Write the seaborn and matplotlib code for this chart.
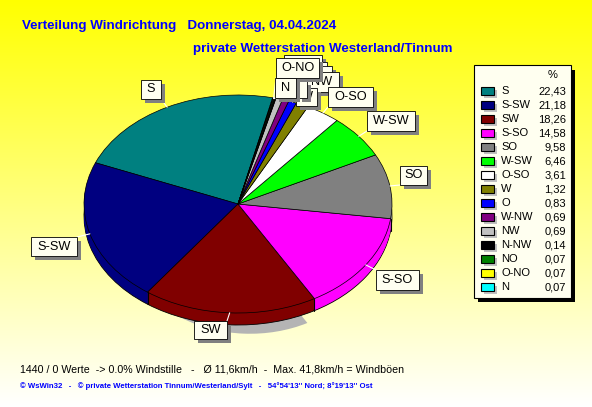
import numpy as np
import pandas as pd
import matplotlib
matplotlib.use('Agg')
import matplotlib.pyplot as plt
from matplotlib.patches import Rectangle
import seaborn as sns

directions = ['S', 'S-SW', 'SW', 'S-SO', 'SO', 'W-SW', 'O-SO', 'W', 'O', 'W-NW', 'NW', 'N-NW', 'NO', 'O-NO', 'N']
percent = [22.43, 21.18, 18.26, 14.58, 9.58, 6.46, 3.61, 1.32, 0.83, 0.69, 0.69, 0.14, 0.07, 0.07, 0.07]
slice_colors = ['#008080', '#000080', '#800000', '#ff00ff', '#808080', '#00ff00', '#ffffff', '#808000',
                '#0000ff', '#800080', '#c0c0c0', '#000000', '#008000', '#ffff00', '#00ffff']

# label boxes in pixels (left, top, right, bottom), back ones first
label_boxes = {
    'N-NW': (284, 55, 322, 72), 'NO': (298, 62, 327, 80), 'W-NW': (296, 66, 332, 84),
    'NW': (304, 72, 339, 92), 'W': (296, 88, 317, 106), 'O': (298, 81, 307, 98),
    'O-NO': (276, 58, 319, 78), 'N': (275, 78, 296, 98), 'O-SO': (328, 87, 373, 107),
    'W-SW': (367, 111, 415, 131), 'SO': (400, 166, 427, 185), 'S-SO': (376, 270, 419, 290),
    'SW': (194, 321, 227, 339), 'S-SW': (31, 237, 77, 256), 'S': (141, 80, 161, 99),
}
# labels covered by the boxes in front of them
hidden_text = ['N-NW', 'NO', 'W-NW', 'O']

W, H = 592, 407
CX, CY, RX, RY = 238, 204, 154, 109
DEPTH = 12
START = 77

sns.set_theme(style='white')
plt.rcParams['font.family'] = ['Liberation Sans', 'DejaVu Sans']
palette = sns.color_palette(slice_colors)
df = pd.DataFrame({'direction': directions, 'percent': percent})

fig = plt.figure(figsize=(W / 100, H / 100), dpi=100)

# yellow to pale background
bg = fig.add_axes([0, 0, 1, 1])
bg.imshow(np.linspace(0, 1, 256).reshape(-1, 1), extent=(0, W, H, 0), aspect='auto',
          cmap=matplotlib.colors.LinearSegmentedColormap.from_list('bg', ['#ffff00', '#ffffff']))
bg.axis('off')

# pie axes, non equal scale gives the tilted ellipse
ax = fig.add_axes([0, 0, 1, 1])
ax.patch.set_alpha(0)

# shadow only under the SW slice
shadow = ['#b4b4b4' if d == 'SW' else 'none' for d in directions]
ax.pie(df['percent'], colors=shadow, startangle=START, radius=0.75, center=(12 / RX, -48 / RY),
       wedgeprops={'edgecolor': 'none', 'linewidth': 0})

for d in range(DEPTH, 0, -1):
    edge = 'black' if d == DEPTH else 'none'
    ax.pie(df['percent'], colors=palette, startangle=START, center=(0, -d / RY),
           wedgeprops={'edgecolor': edge, 'linewidth': 0.6})

ax.pie(df['percent'], colors=palette, startangle=START, wedgeprops={'edgecolor': 'black', 'linewidth': 0.5})

# side edges of the slices at the front
ends = START + np.cumsum(df['percent']) / df['percent'].sum() * 360
for a in ends:
    if 180 < a % 360 < 360:
        x, y = np.cos(np.radians(a)), np.sin(np.radians(a))
        ax.plot([x, x], [y, y - DEPTH / RY], color='black', lw=0.8)

ax.set_aspect('auto')
ax.set_xlim(-CX / RX, (W - CX) / RX)
ax.set_ylim((CY - H) / RY, CY / RY)
ax.set_position([0, 0, 1, 1])
ax.axis('off')

# overlay in pixel coordinates for labels, legend and texts
px = fig.add_axes([0, 0, 1, 1])
px.set_xlim(0, W)
px.set_ylim(H, 0)
px.axis('off')
px.patch.set_alpha(0)

cream = '#fffff0'
starts = np.concatenate([[START], ends[:-1]])
mids = (starts + ends) / 2
for name, mid in zip(directions, mids):
    l, t, r, b = label_boxes[name]
    ex = CX + RX * np.cos(np.radians(mid))
    ey = CY - RY * np.sin(np.radians(mid))
    # leader line goes to the nearest point of the box
    px.plot([ex, np.clip(ex, l, r)], [ey, np.clip(ey, t, b)], color='white', lw=0.8, zorder=2)

z = 3
for name, (l, t, r, b) in label_boxes.items():
    px.add_patch(Rectangle((l + 4, t + 4), r - l, b - t, color='#808080', lw=0, zorder=z))
    px.add_patch(Rectangle((l, t), r - l, b - t, fc=cream, ec='black', lw=0.6, zorder=z + 0.1))
    if name not in hidden_text:
        tx = r - 17 if name == 'NW' else (l + r) / 2
        px.text(tx, (t + b) / 2, name, ha='center', va='center', fontsize=9.2, color='black', zorder=z + 0.2)
    z += 1

# legend
px.add_patch(Rectangle((478, 70), 97, 232, color='black', lw=0, zorder=30))
px.add_patch(Rectangle((474, 65), 97, 233, fc=cream, ec='black', lw=0.8, zorder=31))
px.text(553, 75, '%', ha='center', va='center', fontsize=8, color='black', zorder=32)
for i, (name, val, col) in enumerate(zip(directions, percent, palette)):
    y = 91 + i * 14
    px.add_patch(Rectangle((484, y - 1), 13, 8, color='#c0c0c0', lw=0, zorder=32))
    px.add_patch(Rectangle((481, y - 4), 13, 8, fc=col, ec='black', lw=0.8, zorder=33))
    px.text(501, y, name, ha='left', va='center', fontsize=8, color='black', zorder=34)
    px.text(566, y, f'{val:.2f}'.replace('.', ','), ha='right', va='center', fontsize=8, color='black', zorder=34)

# titles and footer
px.text(22, 26, 'Verteilung Windrichtung   Donnerstag, 04.04.2024', color='#0000ff', fontsize=9.6,
        fontweight='bold', ha='left', va='center', zorder=40)
px.text(193, 49, 'private Wetterstation Westerland/Tinnum', color='#0000ff', fontsize=9.6,
        fontweight='bold', ha='left', va='center', zorder=40)
px.text(20, 369, '1440 / 0 Werte  -> 0.0% Windstille   -   Ø 11,6km/h  -  Max. 41,8km/h = Windböen',
        color='black', fontsize=7.7, ha='left', va='center', zorder=40)
px.text(20, 386, "© WsWin32   -   © private Wetterstation Tinnum/Westerland/Sylt   -   54°54'13'' Nord; 8°19'13'' Ost",
        color='#0000ff', fontsize=5.6, fontweight='bold', ha='left', va='center', zorder=40)

fig.savefig('out.png', dpi=100)
